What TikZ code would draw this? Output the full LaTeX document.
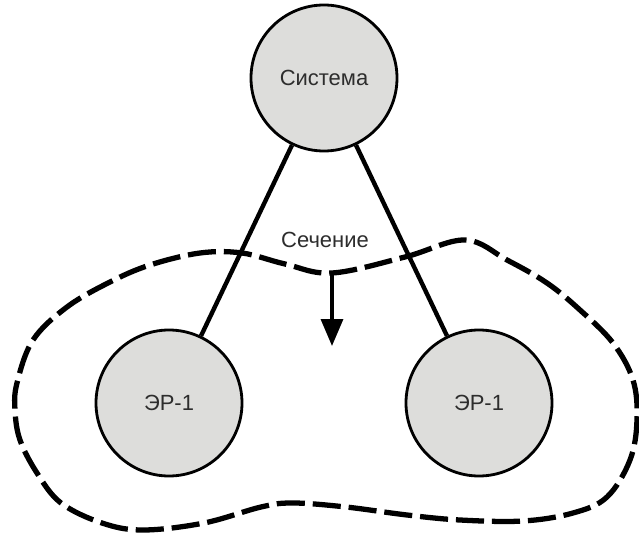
\documentclass[tikz,border=0pt]{standalone}
\usepackage{fontspec}
\setmainfont{Liberation Sans}
\usetikzlibrary{arrows.meta}
\definecolor{elemfill}{RGB}{221,221,219}
\definecolor{elemtext}{RGB}{45,45,45}

\begin{document}
\begin{tikzpicture}
  [elem/.style={circle, draw, line width=1.6pt, fill=elemfill, minimum size=2.92cm,
     inner sep=0pt, text=elemtext, font=\fontsize{12.5}{15}\selectfont},
   link/.style={line width=2.5pt},
   cut/.style={line width=3pt, dash pattern=on 16pt off 4.5pt}]
  \useasboundingbox (0,0) rectangle (12.78,10.7);

  % section boundary
  \draw [cut] plot [smooth cycle, tension=0.6] coordinates {
    (6.64,5.24) (8.10,5.56) (9.30,5.90) (10.14,5.50) (10.94,5.04)
    (11.60,4.50) (12.26,3.84) (12.66,3.10) (12.74,2.30) (12.60,1.50)
    (12.14,0.76) (11.46,0.44) (10.46,0.28) (9.20,0.30) (8.14,0.40)
    (6.92,0.56) (5.86,0.64) (5.22,0.56) (4.08,0.24) (2.86,0.10)
    (2.04,0.24) (1.22,0.64) (0.74,1.24) (0.40,1.90) (0.30,2.50)
    (0.34,3.04) (0.66,3.90) (1.34,4.56) (2.20,5.06) (3.00,5.40)
    (4.00,5.64) (4.84,5.64) (5.70,5.42)};
  \coordinate (dip) at (6.64,5.24);
  \coordinate (tip) at (6.64,3.78);

  \node [elem] (sys) at (6.48,9.14) {Система};
  \node [elem] (er1) at (3.38,2.64) {ЭР-1};
  \node [elem] (er2) at (9.58,2.64) {ЭР-1};
  \node [text=elemtext, font=\fontsize{12.5}{15}\selectfont] (cutname) at (6.5,5.9) {Сечение};

  \draw [link] (sys) -- (er1);
  \draw [link] (sys) -- (er2);
  \draw [line width=2pt, -{Triangle[length=0.54cm,width=0.44cm]}] (dip) -- (tip);
\end{tikzpicture}
\end{document}
